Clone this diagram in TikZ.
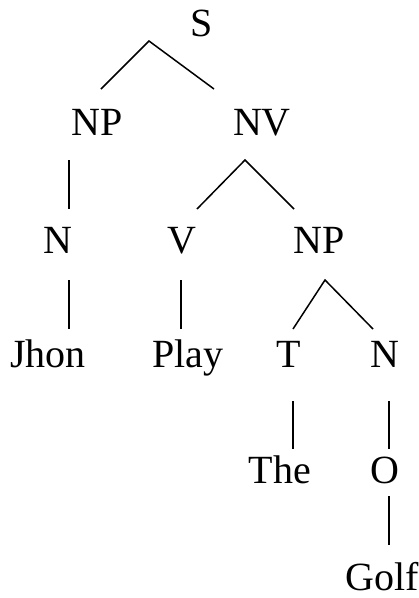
\documentclass[tikz,border=0pt]{standalone}
\usepackage{fontspec}
\setmainfont{Liberation Serif}
\begin{document}
\begin{tikzpicture}[x=1pt,y=-1pt,
  lbl/.style={anchor=base,inner sep=0pt,font=\fontsize{40}{48}\selectfont},
  edge/.style={line width=1.5pt}]
\useasboundingbox (0,0) rectangle (419,598);
% labels
\node[lbl] (S) at (202,36) {S};
\node[lbl] (NP1) at (97,135) {NP};
\node[lbl] (NV) at (262,135) {NV};
\node[lbl] (N1) at (58,253) {N};
\node[lbl] (V) at (182,253) {V};
\node[lbl] (NP2) at (319,253) {NP};
\node[lbl] (Jhon) at (48,367) {Jhon};
\node[lbl] (Play) at (188,367) {Play};
\node[lbl] (T) at (289,367) {T};
\node[lbl] (N2) at (385,367) {N};
\node[lbl] (The) at (280,483) {The};
\node[lbl] (O) at (385,483) {O};
\node[lbl] (Golf) at (382,590) {Golf};
% connector ends
\coordinate (S-b) at (149,41);
\coordinate (NP1-t) at (101,89);
\coordinate (NV-t) at (214,89);
\coordinate (NP1-b) at (69,160);
\coordinate (N1-t) at (69,209);
\coordinate (NV-b) at (245,160);
\coordinate (V-t) at (197,209);
\coordinate (NP2-t) at (294,209);
\coordinate (N1-b) at (69,280);
\coordinate (Jhon-t) at (69,329);
\coordinate (V-b) at (181,280);
\coordinate (Play-t) at (181,329);
\coordinate (NP2-b) at (325,280);
\coordinate (T-t) at (293,329);
\coordinate (N2-t) at (373,329);
\coordinate (T-b) at (293,401);
\coordinate (The-t) at (293,449);
\coordinate (N2-b) at (389,401);
\coordinate (O-t) at (389,449);
\coordinate (O-b) at (389,496);
\coordinate (Golf-t) at (389,545);
% connectors
\draw[edge] (NP1-t) -- (S-b) -- (NV-t);
\draw[edge] (NP1-b) -- (N1-t);
\draw[edge] (V-t) -- (NV-b) -- (NP2-t);
\draw[edge] (N1-b) -- (Jhon-t);
\draw[edge] (V-b) -- (Play-t);
\draw[edge] (T-t) -- (NP2-b) -- (N2-t);
\draw[edge] (T-b) -- (The-t);
\draw[edge] (N2-b) -- (O-t);
\draw[edge] (O-b) -- (Golf-t);
\end{tikzpicture}
\end{document}
